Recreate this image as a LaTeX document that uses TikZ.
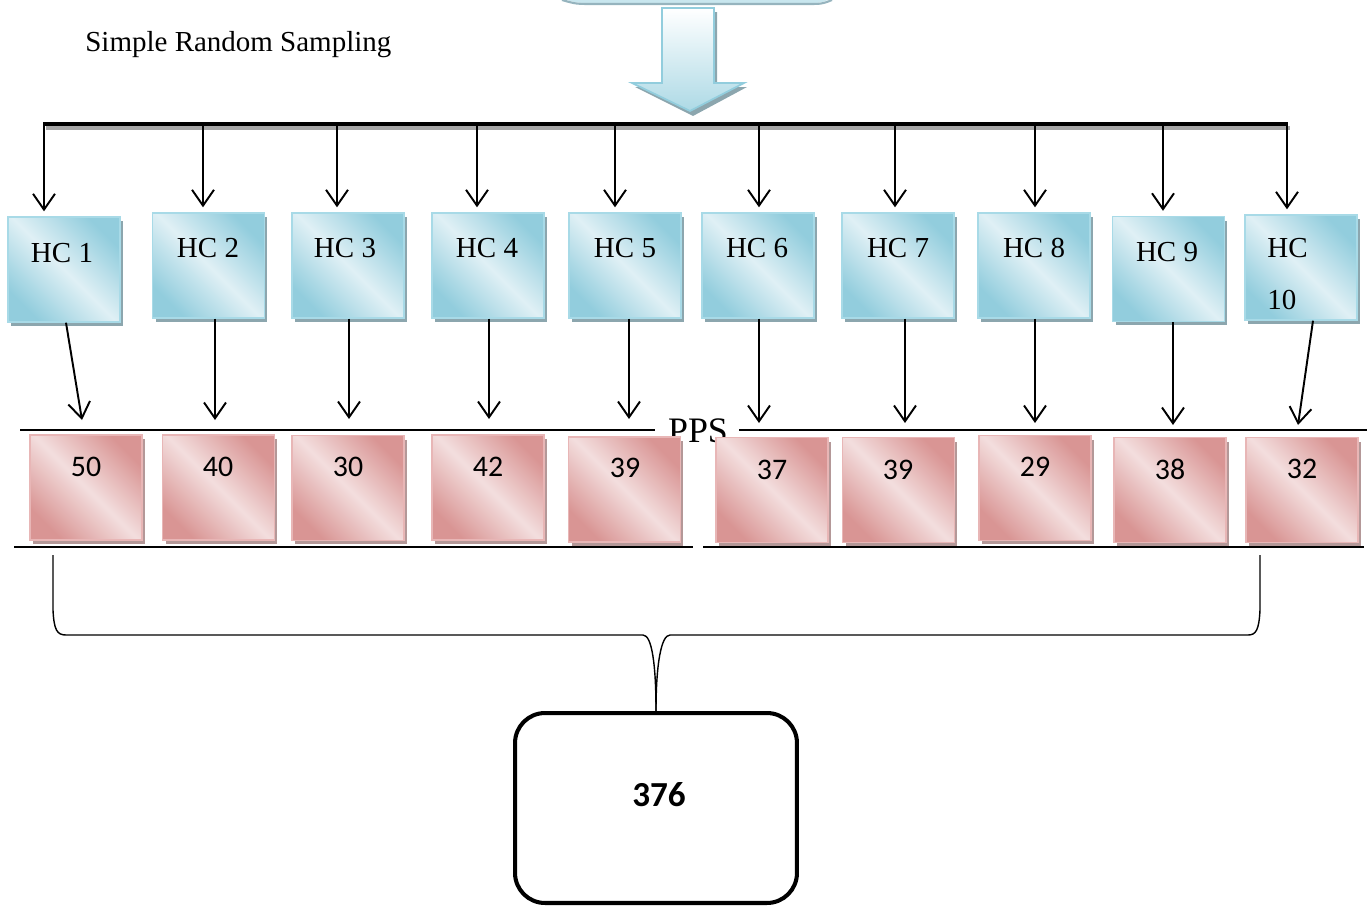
\documentclass[tikz,border=0pt]{standalone}
\usepackage{fontspec}
\setmainfont{Liberation Serif}
\newfontfamily\carlito{Carlito}
\usetikzlibrary{arrows.meta,shadows,calc}
\definecolor{hcdark}{RGB}{146,205,221}
\definecolor{hclight}{RGB}{224,240,245}
\definecolor{hcborder}{RGB}{168,218,231}
\definecolor{hcshadow}{RGB}{140,166,174}
\definecolor{pkdark}{RGB}{217,149,148}
\definecolor{pklight}{RGB}{243,222,222}
\definecolor{pkborder}{RGB}{232,182,182}
\definecolor{pkshadow}{RGB}{180,152,152}
\definecolor{toptab}{RGB}{150,180,190}
\tikzset{
  hcbox/.style={rectangle, minimum width=2.24cm, minimum height=2.1cm, inner sep=0pt,
    draw=hcborder, line width=0.8pt, left color=hcdark, right color=hcdark, middle color=hclight,
    shading angle=135,
    drop shadow={shadow xshift=0.06cm, shadow yshift=-0.08cm, opacity=1, fill=hcshadow}},
  pkbox/.style={rectangle, minimum width=2.24cm, minimum height=2.1cm, inner sep=0pt,
    draw=pkborder, line width=0.8pt, left color=pkdark, right color=pkdark, middle color=pklight,
    shading angle=135,
    drop shadow={shadow xshift=0.06cm, shadow yshift=-0.08cm, opacity=1, fill=pkshadow}},
  serif lbl/.style={inner sep=0pt, font=\fontsize{16.5}{20}\selectfont},
  num lbl/.style={inner sep=0pt, font=\carlito\fontsize{17}{20}\selectfont},
  conn/.style={line width=1.1pt, -{Straight Barb[length=9pt,width=12.5pt]}},
  rule/.style={line width=1.1pt},
  brace/.style={line width=0.8pt},
}
\begin{document}
\begin{tikzpicture}[x=0.02cm,y=-0.02cm]
\useasboundingbox (0,0) rectangle (1370,906);

% partial shape at the top (bottom edge of a cut-off box)
\fill[hcdark!50] (566,0) .. controls (578,3) .. (595,3) -- (805,3) .. controls (820,3) .. (828,0) -- cycle;
\draw[toptab, line width=1.2pt] (562,0) .. controls (576,4) .. (595,4) -- (805,4) .. controls (822,4) .. (832,0);

% block arrow
\fill[hcshadow] (665,12) -- (717,12) -- (717,87) -- (747,87) -- (693,116) -- (635,87) -- (665,87) -- cycle;
\shade[top color=white, bottom color=hcdark!75, draw=hcdark, line width=1pt]
  (662,8) -- (714,8) -- (714,83) -- (744,83) -- (690,111) -- (632,83) -- (662,83) -- cycle;

\node[serif lbl, anchor=west] (srs) at (85,45) {Simple Random Sampling};

% bus line
\draw[line width=1.8pt, gray!70] (46,128) -- (1290,128);
\draw[line width=2.3pt] (43,124) -- (1288,124);

% HC boxes
\foreach \i/\x/\y in {1/64/269.5, 2/208.5/265.5, 3/348/265.5, 4/488/265.5, 5/625/265.5,
  6/758/265.5, 7/898/265.5, 8/1034/265.5, 9/1168.5/269, 10/1301/267.5}
  \node[hcbox] (hc\i) at (\x,\y) {};

\foreach \i/\x/\y/\t in {1/62/253/HC 1, 2/208/248/HC 2, 3/345/248/HC 3, 4/487/248/HC 4,
  5/625/248/HC 5, 6/757/248/HC 6, 7/898/248/HC 7, 8/1034/248/HC 8, 9/1167/252/HC 9}
  \node[serif lbl] (hc\i t) at (\x,\y) {\t};
\node[serif lbl, anchor=west, align=left, font=\fontsize{16.5}{29.5}\selectfont] (hc10t) at (1267,274) {HC\\10};

% taps from bus into HC boxes
\foreach \i/\x in {1/44, 2/203, 3/337, 4/477, 5/615, 6/759, 7/895, 8/1035, 9/1163, 10/1287}
  \coordinate (t\i) at (\x,124);
\foreach \i in {1,...,10}
  \draw[conn] (t\i) -- ($(t\i |- hc\i.north)+(0,-5)$);

% arrow ends above the PPS row
\foreach \i/\x/\y in {1/82/420, 2/215/420, 3/349/419, 4/489/419, 5/629/419,
  6/759/423, 7/905/423, 8/1035/423, 9/1173/425, 10/1298/425}
  \coordinate (e\i) at (\x,\y);
\draw[conn] ([xshift=0.04cm]hc1.south) -- (e1);
\foreach \i in {2,...,9}
  \draw[conn] (e\i |- hc\i.south) -- (e\i);
\draw[conn] ([xshift=0.24cm]hc10.south) -- (e10);

% PPS rules
\draw[rule] (20,430) -- (655,430);
\draw[rule] (739,430) -- (1367,430);
\node[inner sep=0pt, anchor=base, font=\fontsize{20.4}{24}\selectfont] (pps) at (698,442) {PPS};
\draw[rule] (14,547) -- (693,547);
\draw[rule] (703,547) -- (1364,547);

% PPS boxes
\foreach \i/\x/\y in {1/86/487.5, 2/218.5/487.5, 3/348/488, 4/488/487.5, 5/624.5/489.5,
  6/772/490, 7/898.5/490, 8/1035/488, 9/1170/490, 10/1302/490}
  \node[pkbox] (pk\i) at (\x,\y) {};
\foreach \i/\x/\y/\t in {1/86/467/50, 2/218/467/40, 3/348/467/30, 4/488/467/42, 5/625/468/39,
  6/772/470/37, 7/898/470/39, 8/1035/467/29, 9/1170/469/38, 10/1302/469/32}
  \node[num lbl] (pk\i t) at (\x,\y) {\t};

% total box
\node[draw, line width=2.3pt, rounded corners=0.6cm, minimum width=5.64cm, minimum height=3.8cm,
  inner sep=0pt] (total) at (656,808) {};
\node[inner sep=0pt, font=\carlito\bfseries\fontsize{20}{24}\selectfont] (totalt) at (659,795) {376};

% brace
\coordinate (bL) at (53,555);
\coordinate (bR) at (1260,555);
\draw[brace] (bL) -- (53,610) .. controls (54,630) and (57,635) .. (66,635) -- (643,635)
  .. controls (652,635) and (656,665) .. (total.north);
\draw[brace] (bR) -- (1260,610) .. controls (1259,630) and (1256,635) .. (1248,635) -- (670,635)
  .. controls (661,635) and (656,665) .. (total.north);
\end{tikzpicture}
\end{document}
